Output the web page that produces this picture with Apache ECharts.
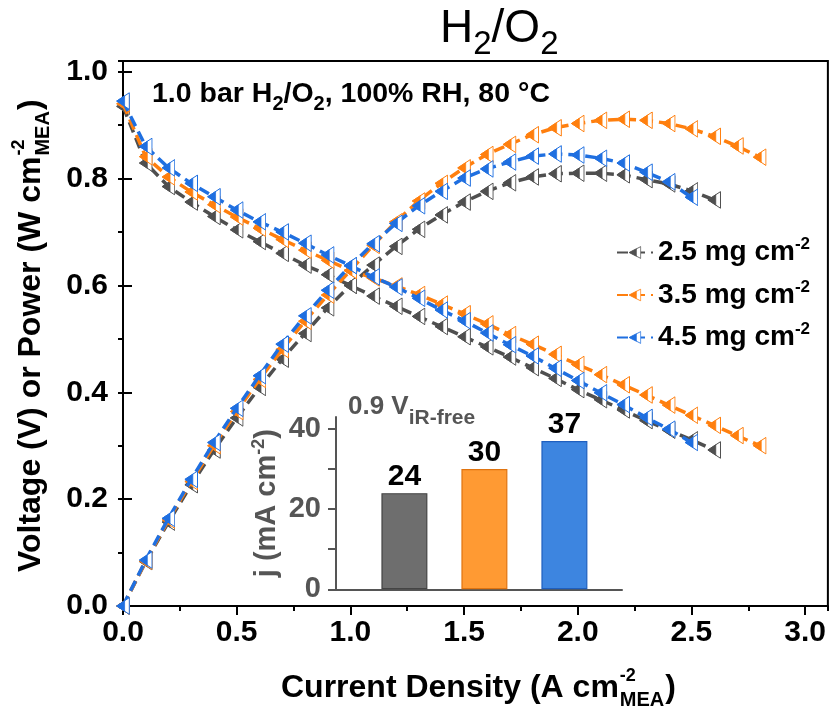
<!DOCTYPE html>
<html><head><meta charset="utf-8">
<script src="https://cdn.jsdelivr.net/npm/echarts@6/dist/echarts.min.js"></script>
<style>html,body{margin:0;padding:0;background:#fff}#c{width:829px;height:707px}</style>
</head><body><div id="c"></div>
<script>
// ---------- data ----------
const currentDensity = [0,0.1,0.2,0.3,0.4,0.5,0.6,0.7,0.8,0.9,1.0,1.1,1.2,1.3,1.4,1.5,1.6,1.7,1.8,1.9,2.0,2.1,2.2,2.3,2.4,2.5,2.6,2.7,2.8];
const voltage25 = [0.935,0.829,0.785,0.756,0.729,0.704,0.682,0.660,0.638,0.620,0.600,0.580,0.561,0.542,0.523,0.504,0.485,0.466,0.446,0.426,0.405,0.386,0.367,0.347,0.329,0.311,0.292];
const power25   = [0,0.083,0.157,0.227,0.292,0.352,0.409,0.462,0.510,0.558,0.600,0.638,0.673,0.705,0.732,0.756,0.776,0.792,0.803,0.809,0.810,0.810,0.807,0.798,0.790,0.777,0.760];
const voltage35 = [0.940,0.841,0.803,0.775,0.751,0.728,0.707,0.686,0.666,0.647,0.628,0.614,0.599,0.583,0.565,0.547,0.528,0.508,0.490,0.471,0.452,0.433,0.414,0.395,0.376,0.357,0.338,0.319,0.300];
const power35   = [0,0.084,0.161,0.233,0.300,0.364,0.424,0.480,0.533,0.582,0.628,0.675,0.719,0.758,0.791,0.820,0.845,0.864,0.882,0.895,0.903,0.909,0.911,0.909,0.903,0.893,0.879,0.861,0.840];
const voltage45 = [0.945,0.860,0.820,0.791,0.766,0.741,0.719,0.700,0.679,0.657,0.637,0.616,0.597,0.576,0.554,0.534,0.511,0.489,0.468,0.445,0.422,0.399,0.377,0.353,0.331,0.306];
const power45   = [0,0.086,0.164,0.237,0.306,0.370,0.431,0.490,0.543,0.591,0.637,0.678,0.716,0.749,0.776,0.801,0.818,0.831,0.842,0.846,0.844,0.838,0.829,0.812,0.794,0.765];
const seriesLoadings = ['2.5', '3.5', '4.5'];
const insetValues = [24, 30, 37];

// ---------- styles ----------
const FF = '"Liberation Sans", Arial, Helvetica, sans-serif';
const lineColors = ['#4f4f4f', '#ff7f0e', '#1f6fe0'];
const barFill = ['#6e6e6e', '#ff9a33', '#3d85e0'];
const barBorder = ['#444444', '#e07410', '#1f5fbf'];

function triSymbol(c) {
  const svg = "<svg xmlns='http://www.w3.org/2000/svg' width='28' height='36' viewBox='0 0 14 18'>" +
    "<polygon points='0.7,9 13.3,0.7 13.3,17.3' fill='white' stroke='" + c + "' stroke-width='1'/>" +
    "<polygon points='0.7,9 8.6,3.8 8.6,14.2' fill='" + c + "' stroke='" + c + "' stroke-width='0.7'/></svg>";
  return 'image://data:image/svg+xml;charset=utf-8,' + encodeURIComponent(svg);
}

const volts = [voltage25, voltage35, voltage45];
const powers = [power25, power35, power45];
const names = seriesLoadings.map(l => l + ' mg cm-2');

const series = [];
for (let k = 0; k < 3; k++) {
  [volts[k], powers[k]].forEach(arr => {
    series.push({
      name: names[k], type: 'line', xAxisIndex: 0, yAxisIndex: 0,
      data: arr.map((v, i) => [currentDensity[i], v]),
      symbol: triSymbol(lineColors[k]), symbolSize: [14, 18], symbolKeepAspect: false,
      showAllSymbol: true, animation: false,
      itemStyle: { color: lineColors[k] },
      lineStyle: { color: lineColors[k], width: 3.5, type: [11, 6] },
      z: 2 + k
    });
  });
}
series.push({
  type: 'bar', xAxisIndex: 2, yAxisIndex: 2, barWidth: 46, animation: false,
  data: insetValues.map((v, i) => ({ value: [i + 1, v], itemStyle: { color: barFill[i], borderColor: barBorder[i], borderWidth: 1.2 } })),
  label: { show: true, position: 'top', distance: 1, color: '#000', fontFamily: FF, fontWeight: 'bold', fontSize: 30 },
  z: 10
});

// measuring helper for stacked super/subscripts in axis titles
const ctx = document.createElement('canvas').getContext('2d');
function tw(t, size) { ctx.font = 'bold ' + size + 'px ' + FF; return ctx.measureText(t).width; }

function stackedTitle(main, sup, sub, close, size, supSize, subSize) {
  const wMain = tw(main, size);
  const wStack = Math.max(tw(sup, supSize), tw(sub, subSize));
  const st = (t, s) => ({ text: t, fontFamily: FF, fontWeight: 'bold', fontSize: s, fill: '#000', align: 'left', verticalAlign: 'middle' });
  return [
    { type: 'text', x: 0, y: 0, style: st(main, size) },
    { type: 'text', x: wMain + 1, y: -12, style: st(sup, supSize) },
    { type: 'text', x: wMain + 1, y: 12, style: st(sub, subSize) },
    { type: 'text', x: wMain + wStack + 2, y: 0, style: st(close, size) }
  ];
}

const chart = echarts.init(document.getElementById('c'), null, { renderer: 'canvas' });
const axisBlack = { lineStyle: { color: '#000', width: 2 } };
const tickLabel = { fontFamily: FF, fontWeight: 'bold', fontSize: 30, color: '#000' };

chart.setOption({
  backgroundColor: '#fff',
  animation: false,
  grid: [
    { left: 123, top: 61, width: 707, height: 545, show: true, borderColor: '#000', borderWidth: 2 },
    { left: 336, top: 417, width: 286, height: 172.3 }
  ],
  xAxis: [
    { gridIndex: 0, type: 'value', min: 0, max: 3.1, interval: 0.5, position: 'bottom',
      axisLine: axisBlack, axisTick: { show: true, inside: false, length: 9, lineStyle: { color: '#000', width: 2 } },
      axisLabel: Object.assign({ margin: 12, showMaxLabel: false, formatter: v => (Math.abs(v * 2 - Math.round(v * 2)) < 1e-6 ? v.toFixed(1) : '') }, tickLabel),
      splitLine: { show: false } },
    { gridIndex: 0, type: 'value', min: 0, max: 3.1, interval: 0.25, position: 'bottom',
      axisLine: { show: false }, axisTick: { show: true, inside: false, length: 5, lineStyle: { color: '#000', width: 2 } },
      axisLabel: { show: false }, splitLine: { show: false } },
    { gridIndex: 1, type: 'value', min: 0.145, max: 3.72,
      axisLine: { lineStyle: { color: '#555', width: 2 } }, axisTick: { show: false }, axisLabel: { show: false }, splitLine: { show: false } }
  ],
  yAxis: [
    { gridIndex: 0, type: 'value', min: 0, max: 1.02, interval: 0.2,
      axisLine: axisBlack, axisTick: { show: true, inside: true, length: 9, lineStyle: { color: '#000', width: 2 } },
      axisLabel: Object.assign({ margin: 15, showMaxLabel: false, formatter: v => (v > 1.001 ? '' : v.toFixed(1)) }, tickLabel),
      splitLine: { show: false } },
    { gridIndex: 0, type: 'value', min: 0, max: 1.02, interval: 0.1,
      axisLine: { show: false }, axisTick: { show: true, inside: true, length: 5, lineStyle: { color: '#000', width: 2 } },
      axisLabel: { show: false }, splitLine: { show: false } },
    { gridIndex: 1, type: 'value', min: 0, max: 43, interval: 10,
      axisLine: { show: true, lineStyle: { color: '#555', width: 2 } },
      axisTick: { show: true, inside: false, length: 8, lineStyle: { color: '#555', width: 2 } },
      axisLabel: { margin: 15, showMaxLabel: false, fontFamily: FF, fontWeight: 'bold', fontSize: 29, color: '#555',
        formatter: v => (v % 20 === 0 && v <= 40 ? String(v) : '') },
      splitLine: { show: false },
      name: '{m|j (mA cm}{s|-2}{m|)}', nameLocation: 'middle', nameRotate: 90, nameGap: 52,
      nameTextStyle: { rich: {
        m: { fontFamily: FF, fontWeight: 'bold', fontSize: 29, color: '#555' },
        s: { fontFamily: FF, fontWeight: 'bold', fontSize: 18, color: '#555', padding: [0, 0, 16, 0] } } } }
  ],
  legend: {
    orient: 'vertical', left: 611, top: 231, itemWidth: 36, itemHeight: 16, itemGap: 12,
    data: names,
    formatter: n => '{t|' + n.replace(' cm-2', ' cm') + '}{sup|-2}',
    textStyle: { rich: {
      t: { fontFamily: FF, fontWeight: 'bold', fontSize: 28, color: '#000' },
      sup: { fontFamily: FF, fontWeight: 'bold', fontSize: 17, color: '#000', padding: [0, 0, 16, 0] } } }
  },
  graphic: [
    { type: 'text', x: 440, y: 29, style: {
        text: '{m|H}{s|2}{m|/O}{s|2}', verticalAlign: 'middle', align: 'left',
        rich: { m: { fontFamily: FF, fontSize: 46, fill: '#000' }, s: { fontFamily: FF, fontSize: 33, fill: '#000', padding: [32, 0, 0, 0] } } } },
    { type: 'text', x: 152, y: 94, style: {
        text: '{m|1.0 bar H}{s|2}{m|/O}{s|2}{m|, 100% RH, 80 °C}', verticalAlign: 'middle', align: 'left',
        rich: { m: { fontFamily: FF, fontWeight: 'bold', fontSize: 28.5, fill: '#000' }, s: { fontFamily: FF, fontWeight: 'bold', fontSize: 20, fill: '#000', padding: [20, 0, 0, 0] } } } },
    { type: 'text', x: 348, y: 407, z: 20, style: {
        text: '{m|0.9 V}{s|iR-free}', verticalAlign: 'middle', align: 'left',
        rich: { m: { fontFamily: FF, fontWeight: 'bold', fontSize: 26, fill: '#555' }, s: { fontFamily: FF, fontWeight: 'bold', fontSize: 21, fill: '#555', padding: [22, 0, 0, 0] } } } },
    { type: 'group', x: 281, y: 688, children: stackedTitle('Current Density (A cm', '-2', 'MEA', ')', 32, 18, 20) },
    { type: 'group', x: 31, y: 572, rotation: Math.PI / 2, children: stackedTitle('Voltage (V) or Power (W cm', '-2', 'MEA', ')', 32, 18, 20) }
  ],
  series: series
});
</script>
</body></html>
